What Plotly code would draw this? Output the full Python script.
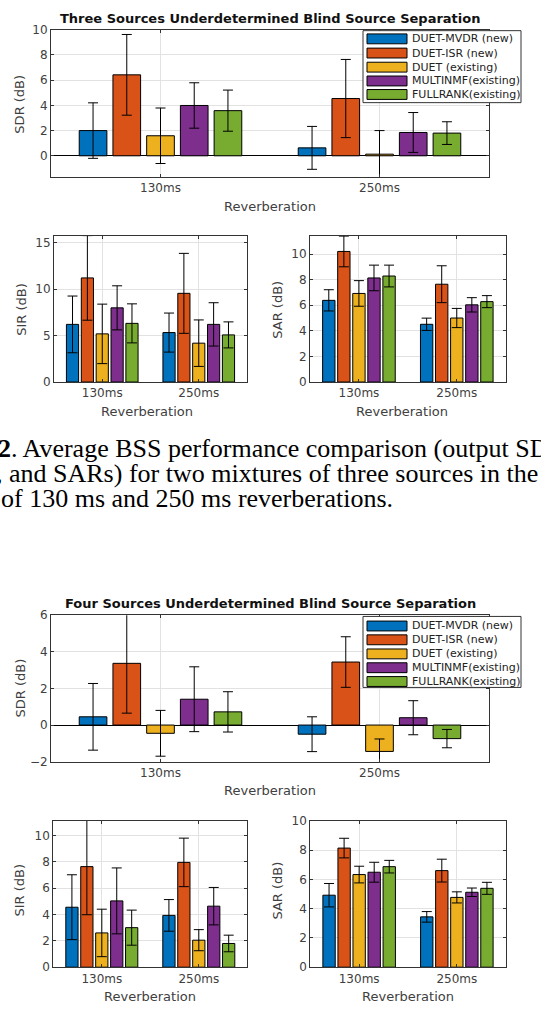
import plotly.graph_objects as go

W, H = 541, 1010

categories = ["130ms", "250ms"]
methods = ["DUET-MVDR (new)", "DUET-ISR (new)", "DUET (existing)",
           "MULTINMF(existing)", "FULLRANK(existing)"]
colors = ["#0072BD", "#D95319", "#EDB120", "#7E2F8E", "#77AC30"]

# ---- Three sources (values per method: [130ms, 250ms]) ----
sdr3_mean = [[2.00, 0.63], [6.42, 4.54], [1.59, 0.13], [3.99, 1.85], [3.58, 1.80]]
sdr3_err = [[2.20, 1.70], [3.20, 3.10], [2.20, 1.87], [1.80, 1.58], [1.63, 0.90]]
sir3_mean = [[6.20, 5.32], [11.20, 9.54], [5.18, 4.18], [7.98, 6.20], [6.31, 5.07]]
sir3_err = [[3.05, 2.10], [4.55, 4.30], [3.20, 2.50], [2.37, 2.33], [2.10, 1.40]]
sar3_mean = [[6.38, 4.51], [10.20, 7.64], [6.92, 5.00], [8.13, 6.03], [8.28, 6.28]]
sar3_err = [[0.83, 0.48], [1.20, 1.44], [1.00, 0.75], [1.00, 0.56], [0.85, 0.47]]

# ---- Four sources ----
sdr4_mean = [[0.45, -0.50], [3.37, 3.44], [-0.45, -1.44], [1.41, 0.40], [0.72, -0.74]]
sdr4_err = [[1.82, 0.95], [2.72, 1.38], [1.25, 0.68], [1.77, 0.93], [1.10, 0.50]]
sir4_mean = [[4.55, 3.93], [7.63, 7.95], [2.60, 2.05], [5.03, 4.63], [3.00, 1.80]]
sir4_err = [[2.46, 1.20], [3.65, 1.84], [1.80, 0.80], [2.50, 1.42], [1.33, 0.63]]
sar4_mean = [[4.92, 3.44], [8.14, 6.60], [6.33, 4.77], [6.49, 5.12], [6.87, 5.39]]
sar4_err = [[0.80, 0.36], [0.67, 0.78], [0.57, 0.38], [0.68, 0.29], [0.43, 0.41]]

titles = ["Three Sources Underdetermined Blind Source Separation",
          "Four Sources Underdetermined Blind Source Separation"]
ylabels = ["SDR (dB)", "SIR (dB)", "SAR (dB)"]
xlabel = "Reverberation"
caption = ["<b>2</b>. Average BSS performance comparison (output SDRs,",
           ", and SARs) for two mixtures of three sources in the presence",
           "of 130 ms and 250 ms reverberations."]

FONT = "DejaVu Sans"
TXT = "#404040"
AX = "#333333"


def px(x):
    return x / W


def py(y):
    return 1 - y / H


# panel: data, errors, x pixel span, y pixel span, y range, dtick, is_sdr
panels = [
    (sdr3_mean, sdr3_err, (51, 489), (23, 172), (-1.65, 10), 2, True),
    (sir3_mean, sir3_err, (54, 247), (232.3, 380.3), (0, 15.7), 5, False),
    (sar3_mean, sar3_err, (310, 505.7), (232.3, 380.3), (0, 11.4), 2, False),
    (sdr4_mean, sdr4_err, (51, 489), (616.7, 765.3), (-2, 6), 2, True),
    (sir4_mean, sir4_err, (53.3, 247.3), (825.3, 973.7), (0, 11.1), 2, False),
    (sar4_mean, sar4_err, (310.3, 505.7), (825.3, 973.7), (0, 10), 2, False),
]

fig = go.Figure()
layout = {}
for i, (mean, err, xs, ys, yr, dt, is_sdr) in enumerate(panels):
    n = i + 1
    xa = "x" if n == 1 else f"x{n}"
    ya = "y" if n == 1 else f"y{n}"
    for m in range(len(methods)):
        fig.add_trace(go.Bar(
            x=categories, y=mean[m], name=methods[m],
            marker=dict(color=colors[m], line=dict(color="black", width=1)),
            error_y=dict(type="data", array=err[m], color="black",
                         thickness=1, width=5),
            xaxis=xa, yaxis=ya, showlegend=False,
        ))
    common = dict(showline=True, mirror="allticks", linecolor=AX, linewidth=1,
                  showgrid=True, gridcolor="#e2e2e2", gridwidth=1,
                  ticks="inside", ticklen=3, tickcolor=AX,
                  tickfont=dict(family=FONT, size=12, color=TXT))
    layout["xaxis" if n == 1 else f"xaxis{n}"] = dict(
        domain=[px(xs[0]), px(xs[1])], anchor=ya, type="category",
        range=[-0.5, 1.5], zeroline=False, **common)
    layout["yaxis" if n == 1 else f"yaxis{n}"] = dict(
        domain=[py(ys[1]), py(ys[0])], anchor=xa, range=list(yr), dtick=dt,
        zeroline=is_sdr, zerolinecolor="black", zerolinewidth=1, **common)

fig.update_layout(**layout)

ann = []
shapes = []


def text(x, y, s, size=13, bold=False, angle=0, family=FONT, color=TXT,
         xanchor="center"):
    ann.append(dict(x=px(x), y=py(y), xref="paper", yref="paper",
                    text=f"<b>{s}</b>" if bold else s, showarrow=False,
                    textangle=angle, xanchor=xanchor, yanchor="middle",
                    font=dict(family=family, size=size, color=color)))


# titles
text(270, 12, titles[0], size=13, bold=True, color="#111111")
text(270, 605, titles[1], size=13, bold=True, color="#111111")

# axis labels
text(20, 99, ylabels[0], angle=-90)
text(22, 307, ylabels[1], angle=-90)
text(278, 307, ylabels[2], angle=-90)
text(20, 691, ylabels[0], angle=-90)
text(20, 896, ylabels[1], angle=-90)
text(278, 896, ylabels[2], angle=-90)

text(270, 202, xlabel)
text(147, 410, xlabel)
text(402, 410, xlabel)
text(270, 795, xlabel)
text(150, 1003, xlabel)
text(408, 1003, xlabel)

# manual legends
for (by0, by1, rows) in [(24, 97, [32.3, 46.7, 61, 75, 88.7]),
                         (618, 690, [627.7, 641.7, 656, 670, 684])]:
    shapes.append(dict(type="rect", xref="paper", yref="paper",
                       x0=px(363), x1=px(521), y0=py(by1), y1=py(by0),
                       fillcolor="white", line=dict(color=AX, width=1),
                       layer="above"))
    for m, ry in enumerate(rows):
        shapes.append(dict(type="rect", xref="paper", yref="paper",
                           x0=px(367), x1=px(407), y0=py(ry + 5), y1=py(ry - 5),
                           fillcolor=colors[m], line=dict(color="black", width=1),
                           layer="above"))
        text(410, ry, methods[m], size=11, color="#222222", xanchor="left")

# caption
cap_font = "Liberation Serif"
text(-4, 448, caption[0], size=26, family=cap_font, color="black", xanchor="left")
text(-6, 473, caption[1], size=26, family=cap_font, color="black", xanchor="left")
text(-1, 498, caption[2], size=26, family=cap_font, color="black", xanchor="left")

fig.update_layout(
    width=W, height=H, margin=dict(l=0, r=0, t=0, b=0),
    paper_bgcolor="white", plot_bgcolor="white",
    barmode="group", bargap=0.23, bargroupgap=0.18,
    annotations=ann, shapes=shapes, showlegend=False,
    font=dict(family=FONT, color=TXT),
)

post = (
    "document.documentElement.style.margin='0';"
    "document.documentElement.style.padding='0';"
    "document.documentElement.style.overflow='hidden';"
    "document.body.style.margin='0';"
    "document.body.style.padding='0';"
    "document.body.style.overflow='hidden';"
    "var gd=document.getElementById('{plot_id}');"
    "gd.style.position='fixed';gd.style.top='0px';gd.style.left='0px';"
)

fig.write_html("out.html", config={"displayModeBar": False}, post_script=post)
